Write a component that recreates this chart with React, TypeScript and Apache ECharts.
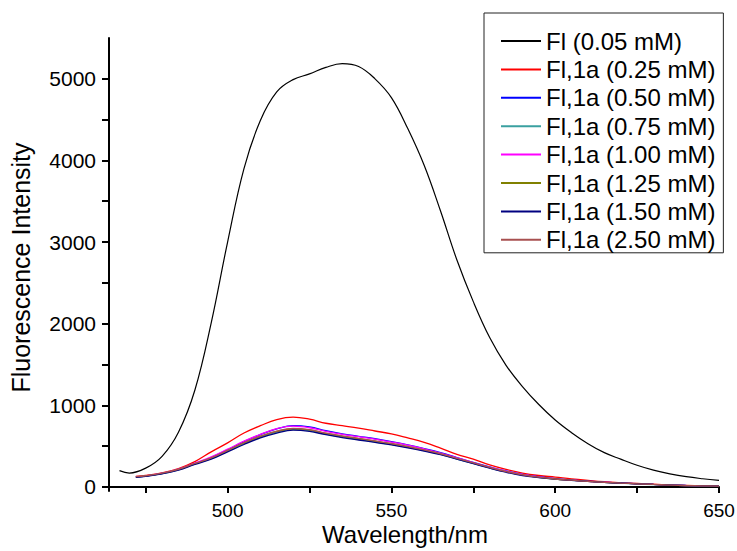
import React, { useEffect, useRef } from "react";
import * as echarts from "echarts";

const seriesNames = [
  "Fl (0.05 mM)",
  "Fl,1a (0.25 mM)",
  "Fl,1a (0.50 mM)",
  "Fl,1a (0.75 mM)",
  "Fl,1a (1.00 mM)",
  "Fl,1a (1.25 mM)",
  "Fl,1a (1.50 mM)",
  "Fl,1a (2.50 mM)",
];
const seriesColors = ["#000000", "#ff0000", "#0000ff", "#3aa0a0", "#ff00ff", "#808000", "#000080", "#a85050"];

const wlFl = [467, 470, 475, 480, 485, 490, 495, 500, 505, 510, 515, 520, 525, 530, 535, 540, 545, 550, 555, 560, 565, 570, 575, 580, 585, 590, 595, 600, 605, 610, 615, 620, 625, 630, 635, 640, 645, 650];
const flOnly = [200, 170, 230, 375, 670, 1184, 2010, 3000, 3900, 4490, 4840, 4990, 5060, 5140, 5185, 5150, 5000, 4770, 4390, 3940, 3380, 2780, 2270, 1830, 1490, 1230, 1010, 820, 665, 530, 420, 340, 265, 205, 160, 125, 100, 80];

const wlMix = [472, 475, 480, 485, 490, 495, 500, 505, 510, 515, 520, 525, 530, 535, 540, 545, 550, 555, 560, 565, 570, 575, 580, 585, 590, 595, 600, 605, 610, 615, 620, 625, 630, 635, 640, 645, 650];
const mix025 = [130, 140, 172, 225, 310, 430, 540, 660, 750, 825, 855, 830, 780, 750, 720, 685, 650, 600, 545, 475, 400, 340, 270, 215, 170, 140, 120, 98, 80, 64, 52, 42, 33, 25, 19, 14, 10];
const mix050 = [122, 133, 165, 215, 288, 360, 455, 555, 640, 710, 750, 735, 690, 650, 620, 590, 555, 515, 470, 420, 360, 300, 245, 195, 155, 125, 100, 84, 70, 58, 48, 39, 31, 24, 18, 13, 10];
const mix075 = [120, 132, 162, 210, 280, 345, 438, 530, 610, 672, 705, 690, 648, 612, 582, 552, 520, 484, 444, 398, 342, 287, 232, 183, 144, 116, 95, 80, 67, 55, 46, 37, 29, 22, 16, 12, 9];
const mix100 = [125, 136, 168, 218, 292, 368, 462, 560, 645, 715, 745, 725, 680, 645, 615, 585, 550, 512, 466, 415, 356, 298, 242, 192, 152, 122, 99, 83, 69, 57, 47, 38, 30, 23, 17, 13, 10];
const mix125 = [124, 135, 166, 214, 285, 352, 445, 538, 618, 680, 712, 698, 655, 620, 590, 560, 528, 492, 450, 404, 348, 292, 236, 186, 147, 118, 97, 82, 68, 56, 47, 38, 30, 23, 17, 13, 10];
const mix150 = [118, 130, 160, 205, 275, 340, 430, 520, 600, 660, 695, 680, 640, 605, 575, 545, 515, 480, 440, 395, 340, 285, 230, 180, 140, 115, 95, 80, 67, 56, 47, 38, 30, 23, 17, 13, 10];
const mix250 = [126, 137, 168, 216, 287, 355, 448, 542, 622, 685, 718, 702, 660, 625, 595, 565, 532, 495, 453, 406, 350, 294, 238, 188, 148, 119, 97, 82, 68, 57, 47, 38, 30, 23, 17, 13, 10];

const yTicks = [0, 500, 1000, 1500, 2000, 2500, 3000, 3500, 4000, 4500, 5000];
const yLabels = [0, 1000, 2000, 3000, 4000, 5000];
const xTicks = [475, 500, 525, 550, 575, 600, 625, 650];
const xLabels = [500, 550, 600, 650];

const FONT = "'Liberation Sans', Arial, sans-serif";

export default function App() {
  const ref = useRef<HTMLDivElement>(null);
  useEffect(() => {
    if (!ref.current) return;
    const chart = echarts.init(ref.current, null, { renderer: "svg" });
    const mixes = [mix025, mix050, mix075, mix100, mix125, mix150, mix250];
    const series: any[] = [
      {
        name: seriesNames[0],
        type: "line",
        data: wlFl.map((w, i) => [w, flOnly[i]]),
        showSymbol: false,
        symbol: "none",
        smooth: 0.4,
        lineStyle: { color: seriesColors[0], width: 1.2 },
        itemStyle: { color: seriesColors[0] },
      },
    ];
    mixes.forEach((arr, k) => {
      series.push({
        name: seriesNames[k + 1],
        type: "line",
        data: wlMix.map((w, i) => [w, arr[i]]),
        showSymbol: false,
        symbol: "none",
        smooth: 0.4,
        lineStyle: { color: seriesColors[k + 1], width: 1.3 },
        itemStyle: { color: seriesColors[k + 1] },
      });
    });
    chart.setOption({
      animation: false,
      backgroundColor: "#ffffff",
      textStyle: { fontFamily: FONT },
      grid: { left: 109, right: 18, top: 38, bottom: 60, outerBoundsMode: "none", containLabel: false },
      legend: {
        orient: "vertical",
        left: 484,
        top: 13,
        padding: [16, 8, 1, 17],
        borderColor: "#222",
        borderWidth: 1,
        icon: "rect",
        itemWidth: 40,
        itemHeight: 2,
        itemGap: 4.4,
        data: seriesNames,
        textStyle: { fontFamily: FONT, fontSize: 24, color: "#000", lineHeight: 24 },
      },
      xAxis: {
        type: "value",
        min: 463.8,
        max: 650,
        name: "Wavelength/nm",
        nameLocation: "middle",
        nameGap: 31,
        nameMoveOverlap: false,
        nameTextStyle: { fontFamily: FONT, fontSize: 24, lineHeight: 24, color: "#000", padding: [0, 18, 0, 0] },
        axisLine: { lineStyle: { color: "#000", width: 2 } },
        axisTick: { show: true, length: 6, customValues: xTicks, lineStyle: { color: "#000", width: 2 } },
        axisLabel: {
          customValues: xLabels,
          fontSize: 19,
          lineHeight: 19,
          color: "#000",
          margin: 10,
          fontFamily: FONT,
          formatter: (v: number) => String(v),
        },
        splitLine: { show: false },
      },
      yAxis: {
        type: "value",
        min: -50,
        max: 5500,
        name: "Fluorescence Intensity",
        nameLocation: "middle",
        nameGap: 76,
        nameRotate: 90,
        nameMoveOverlap: false,
        nameTextStyle: { fontFamily: FONT, fontSize: 25, color: "#000", padding: [0, 6, 0, 0] },
        axisLine: { lineStyle: { color: "#000", width: 2 } },
        axisTick: { show: true, length: 7, customValues: yTicks, lineStyle: { color: "#000", width: 2 } },
        axisLabel: {
          customValues: yLabels,
          fontSize: 21,
          color: "#000",
          margin: 13,
          fontFamily: FONT,
          formatter: (v: number) => String(v),
        },
        splitLine: { show: false },
      },
      series,
    });
    return () => chart.dispose();
  }, []);
  return <div ref={ref} style={{ width: 737, height: 551, position: "absolute", left: 0, top: 0 }} />;
}
